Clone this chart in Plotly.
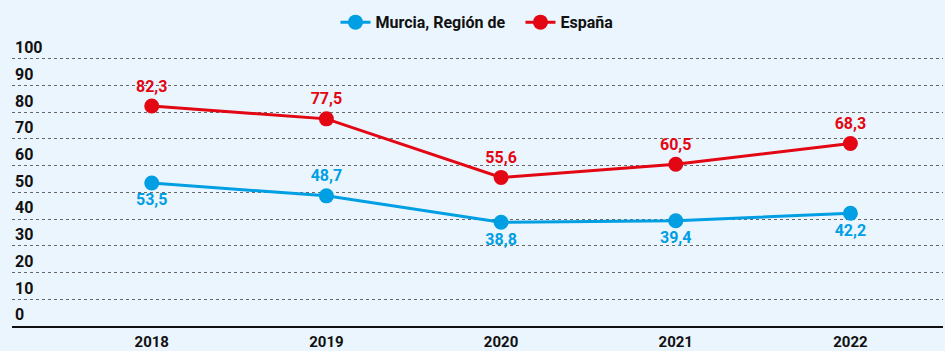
import plotly.graph_objects as go

years = ["2018", "2019", "2020", "2021", "2022"]
murcia = [53.5, 48.7, 38.8, 39.4, 42.2]
espana = [82.3, 77.5, 55.6, 60.5, 68.3]
murcia_pos = ["bottom center", "top center", "bottom center", "bottom center", "bottom center"]
espana_pos = ["top center"] * 5
y_ticks = [0, 10, 20, 30, 40, 50, 60, 70, 80, 90, 100]

BLUE = "#009FE3"
RED = "#E30613"
BG = "#EAF5FD"
INK = "#111111"
FONT = "Liberation Sans Narrow, Roboto, Arial, sans-serif"

fig = go.Figure()
fig.add_trace(go.Scatter(
    x=years, y=murcia, name="Murcia, Región de", mode="lines+markers+text",
    line=dict(color=BLUE, width=3), marker=dict(color=BLUE, size=15),
    text=murcia, texttemplate="%{y:.1f}", textposition=murcia_pos,
    textfont=dict(color=BLUE, size=16, family=FONT, weight="bold"),
))
fig.add_trace(go.Scatter(
    x=years, y=espana, name="España", mode="lines+markers+text",
    line=dict(color=RED, width=3), marker=dict(color=RED, size=15),
    text=espana, texttemplate="%{y:.1f}", textposition=espana_pos,
    textfont=dict(color=RED, size=16, family=FONT, weight="bold"),
))

fig.update_layout(
    width=945, height=351,
    margin=dict(l=12, r=2, t=32, b=25, autoexpand=False),
    paper_bgcolor=BG, plot_bgcolor=BG,
    separators=",.",
    font=dict(family=FONT, color=INK),
    showlegend=True,
    legend=dict(orientation="h", x=0.355, xanchor="left", xref="container",
                y=0.985, yanchor="top", yref="container", entrywidth=140,
                font=dict(size=16, family=FONT, weight="bold", color=INK),
                bgcolor="rgba(0,0,0,0)", itemwidth=30),
    xaxis=dict(
        type="category", range=[-0.8, 4.53], automargin=False,
        showgrid=False, showline=True, linecolor=INK, linewidth=2,
        ticks="", tickfont=dict(size=15, family=FONT, weight="bold", color=INK),
        ticklabelstandoff=1, fixedrange=True,
    ),
    yaxis=dict(
        range=[0, 110], tickvals=y_ticks, ticktext=[str(v) for v in y_ticks],
        ticklabelposition="inside top", ticklabelstandoff=0, automargin=False,
        showgrid=True, gridcolor="#666666",
        griddash="dot", gridwidth=1, zeroline=False, showline=False, ticks="",
        tickfont=dict(size=16, family=FONT, weight="bold", color=INK),
    ),
)

fig.write_html("out.html")
